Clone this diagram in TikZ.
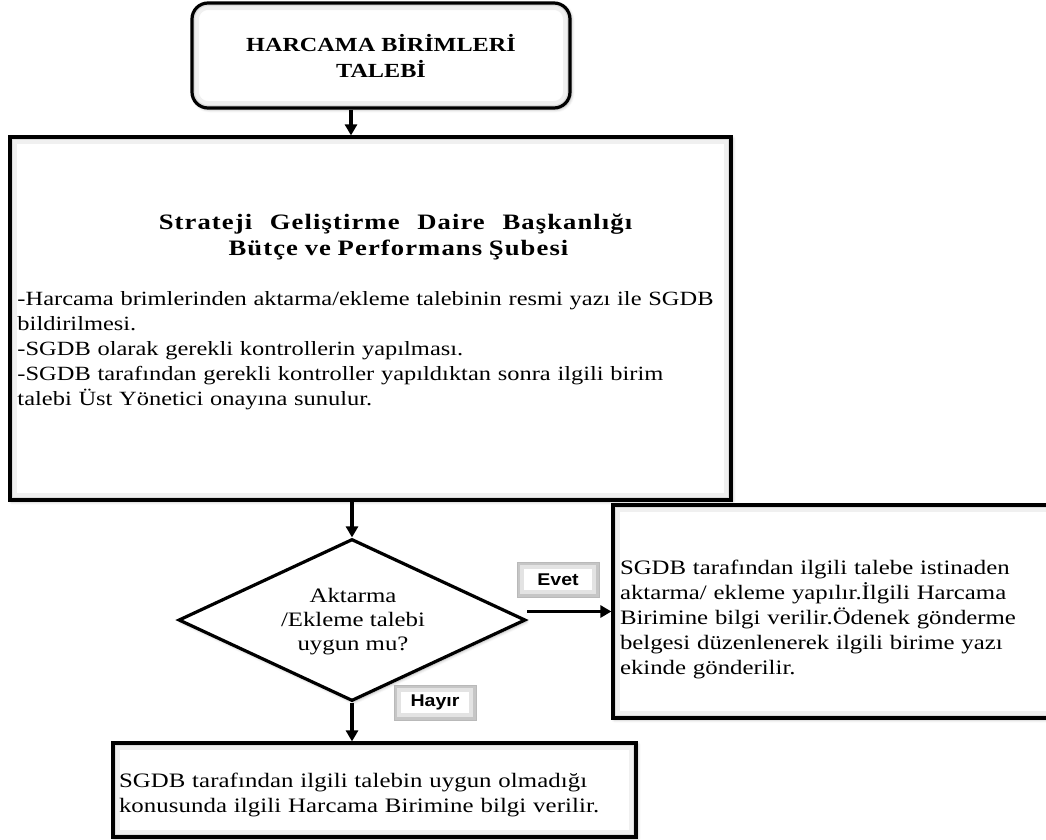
\documentclass[tikz,border=0pt]{standalone}
\usepackage{fontspec}
\setmainfont{Liberation Serif}[FakeStretch=1.21]
\newfontfamily\lblfont{Liberation Sans}[FakeStretch=1.15]
\usetikzlibrary{shapes.geometric,arrows.meta,shadows.blur}

\tikzset{
  soft/.style={blur shadow={shadow xshift=1.5pt,shadow yshift=-1.5pt,
      shadow blur radius=3pt,shadow opacity=35}},
  innerglow/.style={path picture={
      \draw[gray!12,line width=14pt] (path picture bounding box.south west)
        rectangle (path picture bounding box.north east);
      \draw[gray!28,line width=6pt] (path picture bounding box.south west)
        rectangle (path picture bounding box.north east);}},
  box/.style={draw=black,line width=3.2pt,fill=white,soft,innerglow,
      inner sep=0pt,font=\fontsize{20.5}{25}\selectfont},
  startbox/.style={box,rounded corners=16pt,align=center,
      font=\fontsize{20}{26}\selectfont\bfseries},
  decision/.style={diamond,draw=black,line width=3.2pt,fill=white,soft,
      inner sep=0pt},
  decisiontext/.style={align=center,inner sep=0pt,
      font=\fontsize{20.5}{24}\selectfont},
  answer/.style={draw=gray!55,line width=1pt,fill=white,inner sep=0pt,
      minimum width=82pt,minimum height=35pt,
      font=\lblfont\fontsize{17}{20}\selectfont\bfseries,
      path picture={
        \draw[gray!22,line width=14pt] (path picture bounding box.south west)
          rectangle (path picture bounding box.north east);
        \draw[gray!45,line width=6pt] (path picture bounding box.south west)
          rectangle (path picture bounding box.north east);}},
  flow/.style={draw=black,line width=3.2pt,
      -{Triangle[length=11pt,width=12pt]}},
}
% a gap between words of the heading
\newcommand{\hgap}{\hspace{11pt} }

\begin{document}
\begin{tikzpicture}[x=1pt,y=-1pt]
\useasboundingbox (0,0) rectangle (1046,839);

% start of the process
\node[startbox,minimum width=378pt,minimum height=105pt] (start) at (381,55.5)
  {HARCAMA BİRİMLERİ\\TALEBİ};

% processing by the strategy department
\node[box,minimum width=721pt,minimum height=363pt,text width=706pt,
      align=left,font=\fontsize{20.2}{25}\selectfont] (main) at (370.5,318.5)
  {{\centering\bfseries\fontsize{22}{26}\selectfont\addfontfeature{LetterSpace=5}%
    \hspace*{50pt}Strateji\hgap Geliştirme\hgap Daire\hgap Başkanlığı\\
    \hspace*{56pt}Bütçe ve Performans  Şubesi\par}
   \vspace{25pt}
   -Harcama brimlerinden  aktarma/ekleme talebinin  resmi yazı ile  SGDB\\
   bildirilmesi.\\
   -SGDB olarak gerekli kontrollerin  yapılması.\\
   -SGDB tarafından gerekli kontroller  yapıldıktan  sonra ilgili  birim\\
   talebi Üst Yönetici onayına  sunulur.\par
   \vspace{13pt}\nointerlineskip\hbox{}};

% decision
\node[decision,minimum width=347pt,minimum height=162pt] (dec) at (352,620) {};
\node[decisiontext] (dectext) at (353,622)
  {Aktarma\\/Ekleme talebi\\uygun mu?};

% positive outcome
\node[box,minimum width=447pt,minimum height=213pt,text width=433pt,
      align=left] (yes) at (836.5,611.5)
  {\rule{0pt}{30pt}SGDB tarafından ilgili  talebe istinaden\\
   aktarma/ ekleme yapılır.İlgili  Harcama\\
   Birimine  bilgi  verilir.Ödenek  gönderme\\
   belgesi düzenlenerek ilgili  birime  yazı\\
   ekinde  gönderilir.};

% negative outcome
\node[box,minimum width=523pt,minimum height=94pt,text width=511pt,
      align=left] (no) at (374.5,790)
  {\addfontfeature{LetterSpace=0.4}%
   \rule{0pt}{25pt}SGDB tarafından ilgili  talebin uygun olmadığı\\
   konusunda ilgili  Harcama Birimine bilgi  verilir.};

% answer labels
\node[answer] (evet) at (558,579.5) {Evet};
\node[answer] (hayir) at (435,702.5) {Hayır};

% connectors
\draw[flow] (start.south -| 351,0) -- (main.north -| 351,0);
\draw[flow] (main.south -| dec.north) -- (dec.north);
\draw[flow] (yes.west -| dec.east) -- (yes.west);
\draw[flow] (dec.south) -- (dec.south |- no.north);
\end{tikzpicture}
\end{document}
